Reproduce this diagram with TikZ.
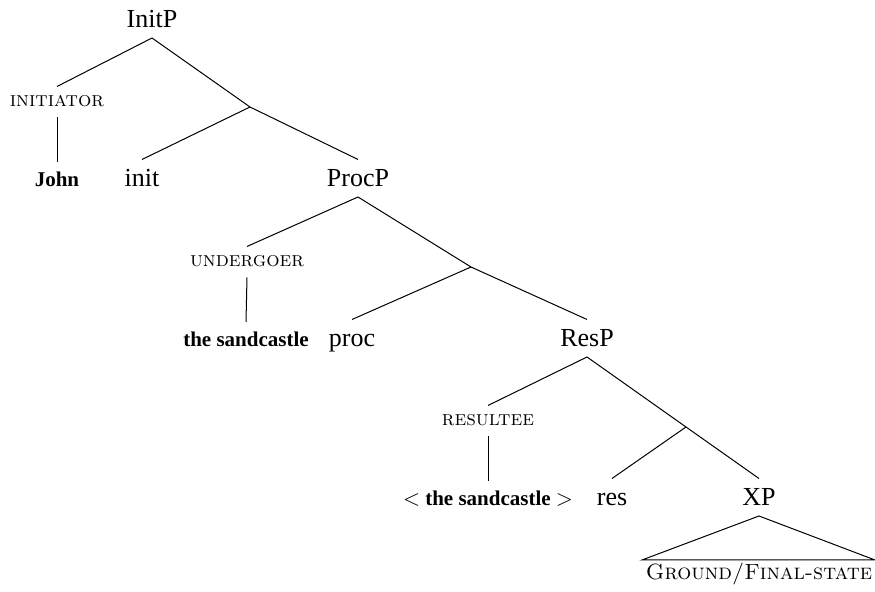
\documentclass[tikz,border=0pt]{standalone}
\usepackage{fontspec}
\newfontfamily\tnr{Liberation Serif}

\begin{document}
\begin{tikzpicture}[x=0.5pt, y=-0.5pt, line width=0.5pt,
  cat/.style={anchor=base, inner sep=0pt, text height=13.5pt, text depth=4.75pt, font=\tnr\fontsize{13}{15}\selectfont},
  word/.style={anchor=base, inner sep=0pt, text height=12.25pt, text depth=0pt, font=\tnr\bfseries\fontsize{10.5}{12}\selectfont},
  role/.style={anchor=base, inner sep=0pt, text height=10pt, text depth=5pt, font=\fontsize{10.5}{12}\selectfont\scshape}]
\useasboundingbox (0,0) rectangle (875,592);

% InitP layer
\node[cat] (initp) at (152,28) {InitP};
\node[role] (initiator) at (57,107) {initiator};
\node[word] (john) at (57,187) {John};
\coordinate (initbar) at (250,107);
\node[cat] (init) at (142,187) {init};
\draw (initp.south) -- (initiator.north);
\draw (initp.south) -- (initbar);
\draw (initiator.south) -- (john.north);
\draw (initbar) -- (init.north);

% ProcP layer
\node[cat] (procp) at (358,187) {ProcP};
\draw (initbar) -- (procp.north);
\node[role] (undergoer) at (247,267) {undergoer};
\node[word] (castle) at (246,347) {the sandcastle};
\coordinate (procbar) at (471,267);
\node[cat] (proc) at (352,347) {proc};
\draw (procp.south) -- (undergoer.north);
\draw (procp.south) -- (procbar);
\draw (undergoer.south) -- (castle.north);
\draw (procbar) -- (proc.north);

% ResP layer
\node[cat] (resp) at (587,347) {ResP};
\draw (procbar) -- (resp.north);
\node[role] (resultee) at (488,426) {resultee};
\node[word] (copy) at (488,506) {\mdseries$<$ \bfseries the sandcastle \mdseries$>$};
\coordinate (resbar) at (686,427);
\node[cat] (res) at (612,506) {res};
\node[cat] (xp) at (759,506) {XP};
\draw (resp.south) -- (resultee.north);
\draw (resp.south) -- (resbar);
\draw (resultee.south) -- (copy.north);
\draw (resbar) -- (res.north);
\draw (resbar) -- (xp.north);

% XP triangle
\node[role, font=\fontsize{11}{13}\selectfont\scshape] (ground) at (759,580) {Ground/Final-state};
\coordinate (triL) at (642,560);
\coordinate (triR) at (875,560);
\draw (xp.south) -- (triL) -- (triR) -- cycle;

\end{tikzpicture}
\end{document}
